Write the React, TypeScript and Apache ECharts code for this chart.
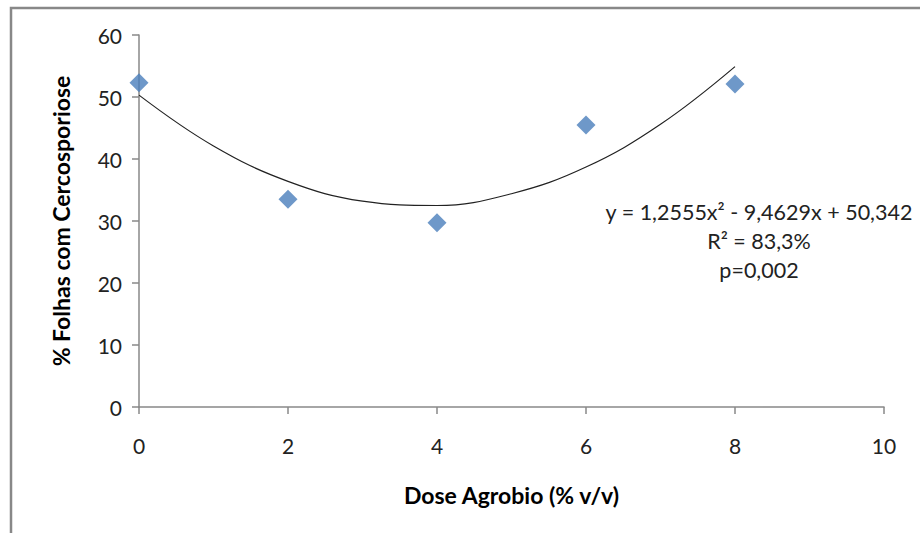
import React, { useEffect, useRef } from "react";
import * as echarts from "echarts";

const doses = [0, 2, 4, 6, 8];
const folhas = [52.3, 33.5, 29.7, 45.5, 52.1];
const trendX = [0, 1, 2, 3, 4, 5, 6, 7, 8];
const trendY = [50.3, 42.1, 36.4, 33.2, 32.5, 34.4, 38.7, 45.6, 54.9];
const equationLines = ["y = 1,2555x² - 9,4629x + 50,342", "R² = 83,3%", "p=0,002"];

export default function App() {
  const ref = useRef<HTMLDivElement>(null);
  useEffect(() => {
    if (!ref.current) return;
    const chart = echarts.init(ref.current, null, { renderer: "svg" });
    const font = "Lato, 'Noto Sans', sans-serif";
    chart.setOption({
      animation: false,
      backgroundColor: "#ffffff",
      grid: { left: 139, top: 35, right: 36, bottom: 126 },
      xAxis: {
        type: "value",
        min: 0,
        max: 10,
        interval: 2,
        name: "Dose Agrobio (% v/v)",
        nameLocation: "middle",
        nameGap: 76,
        nameTextStyle: { fontFamily: font, fontSize: 23, fontWeight: "bold", color: "#000" },
        axisLine: { show: true, onZero: false, lineStyle: { color: "#888", width: 1.5 } },
        axisTick: { show: true, inside: false, length: 7, lineStyle: { color: "#888", width: 1.5 } },
        axisLabel: { fontFamily: font, fontSize: 21, color: "#222", margin: 28 },
        splitLine: { show: false },
      },
      yAxis: {
        type: "value",
        min: 0,
        max: 60,
        interval: 10,
        name: "% Folhas com Cercosporiose",
        nameLocation: "middle",
        nameGap: 67,
        nameRotate: 90,
        nameTextStyle: { fontFamily: font, fontSize: 23, fontWeight: "bold", color: "#000" },
        axisLine: { show: true, lineStyle: { color: "#888", width: 1.5 } },
        axisTick: { show: true, inside: false, length: 7, lineStyle: { color: "#888", width: 1.5 } },
        axisLabel: { fontFamily: font, fontSize: 21, color: "#222", margin: 17 },
        splitLine: { show: false },
      },
      series: [
        {
          type: "line",
          data: trendX.map((x, i) => [x, trendY[i]]),
          smooth: 0.4,
          showSymbol: false,
          symbol: "none",
          lineStyle: { color: "#222", width: 1.2 },
          z: 1,
        },
        {
          type: "scatter",
          data: doses.map((x, i) => [x, folhas[i]]),
          symbol: "diamond",
          symbolSize: [19, 19],
          itemStyle: { color: "#4A7EBB" },
          z: 2,
        },
      ],
      graphic: [
        {
          type: "rect",
          shape: { x: 11, y: 8, width: 930, height: 560 },
          style: { fill: "none", stroke: "#888", lineWidth: 2.5 },
          silent: true,
        },
        ...equationLines.map((t, i) => ({
          type: "text",
          x: 759,
          y: 212 + i * 29,
          style: {
            text: t,
            fontFamily: font,
            fontSize: 21.5,
            fill: "#222",
            textAlign: "center",
            textVerticalAlign: "middle",
          },
        })),
      ],
    });
    return () => chart.dispose();
  }, []);
  return <div ref={ref} style={{ width: 920, height: 533, position: "absolute", left: 0, top: 0 }} />;
}
